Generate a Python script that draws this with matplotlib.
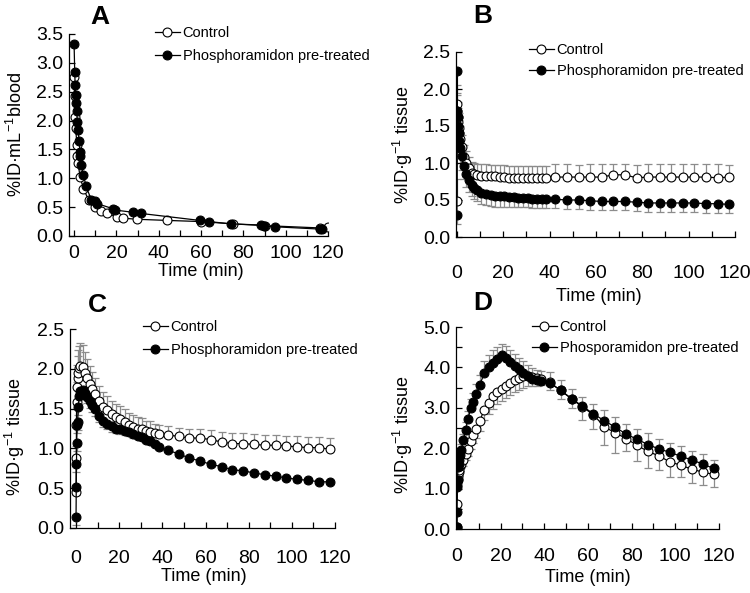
import matplotlib
matplotlib.use("Agg")
import matplotlib.pyplot as plt
from matplotlib.ticker import MultipleLocator, FormatStrFormatter
from matplotlib.lines import Line2D

plt.rcParams['font.family'] = ['Liberation Sans', 'DejaVu Sans']
plt.rcParams['mathtext.fontset'] = 'custom'
plt.rcParams['mathtext.rm'] = 'Liberation Sans'
plt.rcParams['mathtext.it'] = 'Liberation Sans:italic'
plt.rcParams['mathtext.bf'] = 'Liberation Sans:bold'

# ---------------- Panel A (blood) ----------------
a_ctrl_t = [0, 0.2, 0.5, 0.8, 1.3, 1.6, 1.9, 2.8, 4.4, 6.9, 9.9, 12.6, 15.7, 20.4, 23.0,
            29.6, 44.0, 60.0, 75.0, 90.0, 116.0, 120.0]
a_ctrl_v = [2.75, 2.42, 2.07, 1.87, 1.57, 1.38, 1.26, 1.03, 0.82, 0.62, 0.50, 0.44, 0.39, 0.33, 0.31,
            0.29, 0.27, 0.25, 0.21, 0.18, 0.14, 0.16]
a_trt_t = [0, 0.3, 0.5, 0.8, 1.0, 1.2, 1.6, 1.9, 2.4, 2.8, 3.0, 3.3, 4.4, 5.7, 8.2, 9.9, 11.0,
           18.6, 19.3, 28.0, 31.8, 59.4, 63.8, 74.1, 88.5, 89.6, 94.8, 116.0, 117.3]
a_trt_v = [3.33, 2.85, 2.62, 2.45, 2.30, 2.16, 1.98, 1.83, 1.64, 1.46, 1.38, 1.23, 1.06, 0.86, 0.62, 0.60, 0.56,
           0.47, 0.45, 0.41, 0.39, 0.27, 0.25, 0.21, 0.19, 0.17, 0.16, 0.12, 0.12]

# ---------------- common sampling times for B, C, D ----------------
time_min = [0, 0.1, 0.2, 0.3, 0.5, 0.75, 1, 1.5, 2, 3, 4, 5, 6.5, 7.5, 8.75,
            10.5, 12.5, 14.5, 16.5, 18.5, 20.5, 22.5, 24.5, 26.5, 28.5, 30.5, 32.5, 34.5, 36.5, 38.5,
            42.5, 47.5, 52.5, 57.5, 62.5, 67.5, 72.5, 77.5, 82.5, 87.5, 92.5, 97.5, 102.5, 107.5, 112.5, 117.5]

# ---------------- Panel B ----------------
b_ctrl = [0.48, 1.80, 1.70, 1.62, 1.55, 1.47, 1.40, 1.33, 1.22, 1.08, 1.00, 0.93, 0.87, 0.85, 0.84,
          0.83, 0.83, 0.82, 0.82, 0.81, 0.81, 0.80, 0.80, 0.80, 0.80, 0.80, 0.80, 0.80, 0.80, 0.80,
          0.81, 0.81, 0.81, 0.81, 0.81, 0.84, 0.84, 0.80, 0.81, 0.81, 0.81, 0.81, 0.81, 0.81, 0.80, 0.81]
b_ctrl_sem = [0.30, 0.25, 0.22, 0.20, 0.20, 0.20, 0.18, 0.17, 0.16, 0.16, 0.16, 0.15, 0.15, 0.15, 0.15,
              0.15, 0.15, 0.15, 0.15, 0.16, 0.16, 0.16, 0.16, 0.16, 0.16, 0.16, 0.16, 0.16, 0.16, 0.16,
              0.17, 0.17, 0.16, 0.17, 0.17, 0.15, 0.15, 0.17, 0.17, 0.17, 0.17, 0.17, 0.17, 0.17, 0.18, 0.16]
b_trt = [0.30, 2.24, 1.70, 1.62, 1.50, 1.40, 1.30, 1.20, 1.10, 0.96, 0.85, 0.77, 0.70, 0.66, 0.63,
         0.60, 0.58, 0.57, 0.56, 0.55, 0.55, 0.54, 0.54, 0.53, 0.53, 0.53, 0.52, 0.52, 0.52, 0.52,
         0.51, 0.50, 0.50, 0.49, 0.48, 0.48, 0.48, 0.47, 0.46, 0.46, 0.46, 0.46, 0.46, 0.45, 0.45, 0.44]
b_trt_sem = [0.13, 0.30, 0.25, 0.22, 0.20, 0.20, 0.20, 0.20, 0.20, 0.18, 0.17, 0.16, 0.15, 0.15, 0.15,
             0.15, 0.15, 0.15, 0.15, 0.14, 0.14, 0.14, 0.14, 0.13, 0.13, 0.13, 0.13, 0.13, 0.13, 0.13,
             0.12, 0.12, 0.12, 0.12, 0.12, 0.12, 0.12, 0.12, 0.12, 0.12, 0.12, 0.12, 0.12, 0.12, 0.12, 0.12]

# ---------------- Panel C ----------------
c_ctrl = [0.45, 0.88, 1.30, 1.58, 1.77, 1.88, 1.95, 2.01, 2.04, 2.02, 1.95, 1.88, 1.81, 1.75, 1.68,
          1.59, 1.52, 1.48, 1.43, 1.39, 1.37, 1.33, 1.29, 1.27, 1.25, 1.24, 1.22, 1.21, 1.19, 1.18,
          1.17, 1.15, 1.13, 1.13, 1.11, 1.08, 1.06, 1.06, 1.05, 1.04, 1.04, 1.03, 1.02, 1.01, 1.01, 0.99]
c_ctrl_sem = [0.05, 0.15, 0.20, 0.25, 0.28, 0.28, 0.28, 0.28, 0.28, 0.28, 0.26, 0.24, 0.22, 0.21, 0.20,
              0.20, 0.19, 0.18, 0.17, 0.17, 0.16, 0.16, 0.15, 0.15, 0.14, 0.14, 0.13, 0.13, 0.12, 0.12,
              0.11, 0.11, 0.12, 0.12, 0.12, 0.12, 0.13, 0.13, 0.13, 0.13, 0.13, 0.13, 0.13, 0.13, 0.13, 0.14]
c_trt = [0.14, 0.52, 0.80, 1.07, 1.29, 1.33, 1.52, 1.66, 1.72, 1.73, 1.70, 1.65, 1.59, 1.54, 1.49,
         1.41, 1.35, 1.31, 1.28, 1.25, 1.24, 1.22, 1.20, 1.18, 1.16, 1.14, 1.11, 1.09, 1.06, 1.02,
         0.98, 0.93, 0.88, 0.84, 0.80, 0.77, 0.73, 0.72, 0.69, 0.67, 0.65, 0.63, 0.61, 0.60, 0.58, 0.58]
c_trt_sem = [0.10, 0.10, 0.10, 0.10, 0.10, 0.10, 0.10, 0.10, 0.08, 0.08, 0.08, 0.08, 0.08, 0.08, 0.08,
             0.08, 0.08, 0.07, 0.07, 0.06, 0.06, 0.05, 0.05, 0.05, 0.04, 0.04, 0.04, 0.04, 0.04, 0.04,
             0.03, 0.03, 0.03, 0.03, 0.03, 0.03, 0.03, 0.03, 0.03, 0.03, 0.03, 0.03, 0.03, 0.03, 0.03, 0.03]

# ---------------- Panel D ----------------
d_ctrl = [0.05, 0.62, 1.10, 1.25, 1.32, 1.40, 1.45, 1.55, 1.62, 1.72, 1.85, 1.98, 2.18, 2.32, 2.48,
          2.68, 2.95, 3.12, 3.28, 3.40, 3.47, 3.55, 3.62, 3.68, 3.74, 3.78, 3.78, 3.76, 3.74, 3.71,
          3.63, 3.43, 3.22, 3.02, 2.83, 2.53, 2.38, 2.24, 2.07, 1.92, 1.81, 1.66, 1.58, 1.48, 1.41, 1.35]
d_ctrl_sem = [0.03, 0.10, 0.10, 0.10, 0.10, 0.10, 0.10, 0.12, 0.12, 0.15, 0.15, 0.18, 0.20, 0.20, 0.22,
              0.25, 0.25, 0.28, 0.30, 0.30, 0.30, 0.30, 0.30, 0.30, 0.30, 0.28, 0.25, 0.22, 0.20, 0.15,
              0.20, 0.20, 0.22, 0.33, 0.35, 0.44, 0.51, 0.30, 0.38, 0.42, 0.35, 0.38, 0.30, 0.33, 0.32, 0.30]
d_trt = [0.05, 0.43, 1.05, 1.21, 1.54, 1.62, 1.71, 1.83, 1.96, 2.20, 2.45, 2.72, 3.00, 3.15, 3.33,
         3.57, 3.85, 4.00, 4.12, 4.21, 4.30, 4.24, 4.13, 4.03, 3.95, 3.87, 3.79, 3.72, 3.68, 3.66,
         3.62, 3.43, 3.23, 3.04, 2.85, 2.68, 2.52, 2.35, 2.22, 2.09, 1.98, 1.90, 1.80, 1.71, 1.61, 1.50]
d_trt_sem = [0.05, 0.10, 0.10, 0.10, 0.10, 0.10, 0.12, 0.12, 0.15, 0.15, 0.20, 0.20, 0.22, 0.22, 0.25,
             0.25, 0.30, 0.30, 0.30, 0.30, 0.28, 0.30, 0.30, 0.30, 0.28, 0.28, 0.27, 0.27, 0.26, 0.26,
             0.26, 0.26, 0.24, 0.22, 0.25, 0.27, 0.26, 0.25, 0.25, 0.28, 0.26, 0.24, 0.25, 0.23, 0.24, 0.21]

label_ctrl = "Control"
label_trt = "Phosphoramidon pre-treated"
label_trt_d = "Phosporamidon pre-treated"
ylab_blood = "%ID\u00b7mL$^{-1}$blood"
ylab_tissue = "%ID\u00b7g$^{-1}$ tissue"
xlab = "Time (min)"

W, H = 750, 593
fig = plt.figure(figsize=(W / 100, H / 100), dpi=100)


def px_axes(left, right, top, bottom):
    return fig.add_axes([left / W, 1 - bottom / H, (right - left) / W, (bottom - top) / H])


ERR_C = '#8c8c8c'
MS = 6.4
LW = 0.9


def series(ax, t, v, sem, filled, direction):
    zeros = [0] * len(v)
    if sem is not None:
        yerr = [zeros, sem] if direction == 'up' else [sem, zeros]
        ax.errorbar(t, v, yerr=yerr, fmt='none', ecolor=ERR_C, elinewidth=0.9,
                    capsize=2.6, capthick=0.9, zorder=1)
    ax.plot(t, v, '-', color='black', lw=LW, marker='o', ms=MS,
            mfc='black' if filled else 'white', mec='black', mew=0.8,
            zorder=3 if filled else 2)


def style(ax, xmin, ymax, ystep, yminor, pad_x):
    ax.set_xlim(xmin, 120)
    ax.set_ylim(0, ymax)
    for s in ['top', 'right']:
        ax.spines[s].set_visible(False)
    for s in ['left', 'bottom']:
        ax.spines[s].set_linewidth(0.9)
    ax.xaxis.set_major_locator(MultipleLocator(20))
    ax.xaxis.set_minor_locator(MultipleLocator(10))
    ax.yaxis.set_major_locator(MultipleLocator(ystep))
    if yminor:
        ax.yaxis.set_minor_locator(MultipleLocator(yminor))
    ax.yaxis.set_major_formatter(FormatStrFormatter('%.1f'))
    ax.tick_params(which='both', direction='in', length=4, width=0.9, labelsize=14)
    ax.tick_params(axis='x', which='major', pad=pad_x)
    ax.tick_params(axis='y', which='major', pad=4)


def legend(ax, labels, x, y, spacing):
    h1 = Line2D([], [], color='black', lw=LW, marker='o', ms=MS, mfc='white', mec='black', mew=0.8)
    h2 = Line2D([], [], color='black', lw=LW, marker='o', ms=MS, mfc='black', mec='black', mew=0.8)
    ax.legend([h1, h2], labels, loc='upper left', bbox_to_anchor=(x / W, 1 - y / H),
              bbox_transform=fig.transFigure, frameon=False, borderpad=0, borderaxespad=0,
              handlelength=1.7, handletextpad=0.2, labelspacing=spacing, fontsize=10.5)


def labels(ax, ylab, ylx, yly, xlx, xly):
    ax.set_ylabel(ylab, fontsize=13, va='center')
    ax.yaxis.set_label_coords(ylx, yly)
    ax.set_xlabel(xlab, fontsize=13, va='center')
    ax.xaxis.set_label_coords(xlx, xly)


# Panel A
axA = px_axes(69, 328, 34, 236)
series(axA, a_ctrl_t, a_ctrl_v, None, False, 'up')
series(axA, a_trt_t, a_trt_v, None, True, 'down')
style(axA, -2.4, 3.5, 0.5, None, 6.5)
labels(axA, ylab_blood, -0.205, 0.5, 0.51, -0.178)
legend(axA, [label_ctrl, label_trt], 155, 26, 0.62)

# Panel B
axB = px_axes(456, 735, 52, 237)
series(axB, time_min, b_ctrl, b_ctrl_sem, False, 'up')
series(axB, time_min, b_trt, b_trt_sem, True, 'down')
style(axB, -0.4, 2.5, 0.5, None, 20)
labels(axB, ylab_tissue, -0.19, 0.5, 0.513, -0.319)
legend(axB, [label_ctrl, label_trt], 529, 43, 0.5)

# Panel C
axC = px_axes(70, 335, 329, 528)
series(axC, time_min, c_ctrl, c_ctrl_sem, False, 'up')
series(axC, time_min, c_trt, c_trt_sem, True, 'down')
style(axC, -2.8, 2.5, 0.5, None, 15.5)
labels(axC, ylab_tissue, -0.207, 0.46, 0.506, -0.246)
legend(axC, [label_ctrl, label_trt], 143, 320, 0.62)

# Panel D
axD = px_axes(456, 719, 327, 529)
series(axD, time_min, d_ctrl, d_ctrl_sem, False, 'down')
series(axD, time_min, d_trt, d_trt_sem, True, 'up')
style(axD, -0.4, 5.0, 1.0, 0.5, 13.5)
labels(axD, ylab_tissue, -0.20, 0.465, 0.5, -0.238)
legend(axD, [label_ctrl, label_trt_d], 532, 320, 0.5)

for letter, x, y in [('A', 100, 17), ('B', 483, 16), ('C', 97, 305), ('D', 483, 303)]:
    fig.text(x / W, 1 - y / H, letter, fontsize=19, fontweight='bold', ha='center', va='center')

fig.savefig('out.png', dpi=100)
